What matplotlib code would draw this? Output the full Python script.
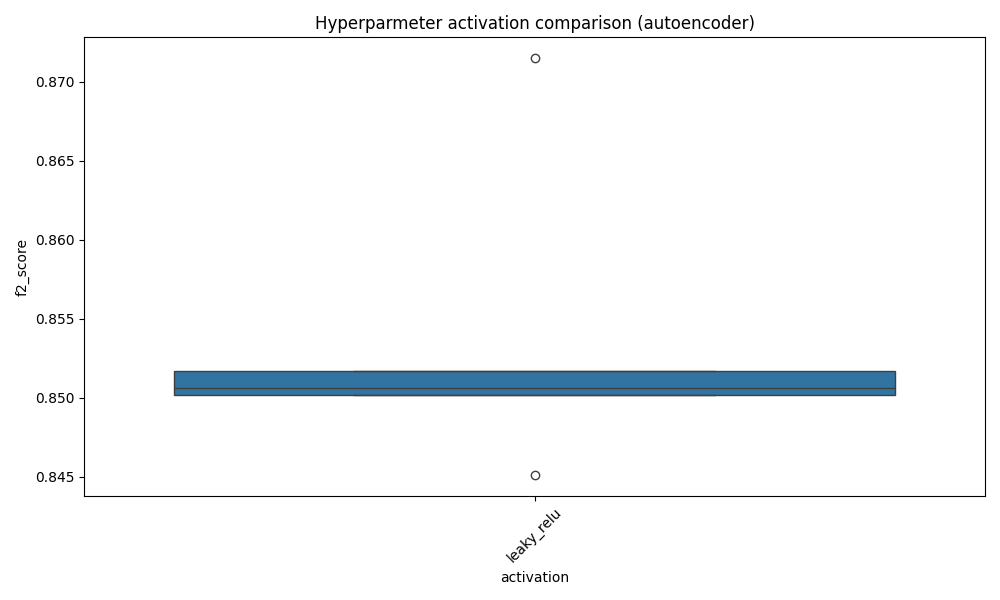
import pandas as pd
import matplotlib
matplotlib.use('Agg')
import matplotlib.pyplot as plt
import seaborn as sns

activation = ['leaky_relu'] * 7
f2_score = [0.8451, 0.8502, 0.8502, 0.8506, 0.8517, 0.8517, 0.8715]

df = pd.DataFrame({'activation': activation, 'f2_score': f2_score})

plt.figure(figsize=(10, 6))
sns.boxplot(data=df, x='activation', y='f2_score')
plt.title('Hyperparmeter activation comparison (autoencoder)')
plt.xticks(rotation=45)
plt.tight_layout()
plt.savefig('out.png', dpi=100)
